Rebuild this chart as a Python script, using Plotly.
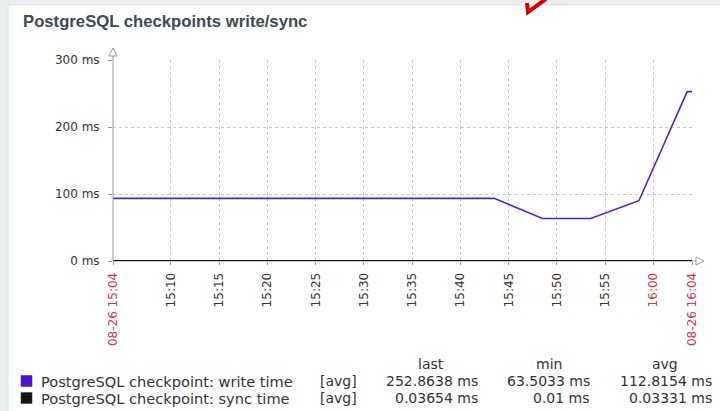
import plotly.graph_objects as go

# ---------------- data ----------------
times = ["2024-08-26 15:03:30", "2024-08-26 15:08:30", "2024-08-26 15:13:30", "2024-08-26 15:18:30",
         "2024-08-26 15:23:30", "2024-08-26 15:28:30", "2024-08-26 15:33:30", "2024-08-26 15:38:30",
         "2024-08-26 15:43:30", "2024-08-26 15:48:30", "2024-08-26 15:53:30", "2024-08-26 15:58:30",
         "2024-08-26 16:03:30", "2024-08-26 16:04:00"]
write_time = [93.5, 93.5, 93.5, 93.5, 93.5, 93.5, 93.5, 93.5, 93.5, 63.5033, 63.5033, 90.0, 252.8638, 252.8638]
sync_time = [0.03, 0.03, 0.03, 0.03, 0.03, 0.03, 0.03, 0.03, 0.03, 0.01, 0.02, 0.03, 0.03654, 0.03654]

series_names = ["PostgreSQL checkpoint: write time", "PostgreSQL checkpoint: sync time"]
series_func = ["[avg]", "[avg]"]
stat_headers = ["last", "min", "avg"]
stat_last = ["252.8638 ms", "0.03654 ms"]
stat_min = ["63.5033 ms", "0.01 ms"]
stat_avg = ["112.8154 ms", "0.03331 ms"]

x_tickvals = ["2024-08-26 15:04", "2024-08-26 15:10", "2024-08-26 15:15", "2024-08-26 15:20",
              "2024-08-26 15:25", "2024-08-26 15:30", "2024-08-26 15:35", "2024-08-26 15:40",
              "2024-08-26 15:45", "2024-08-26 15:50", "2024-08-26 15:55", "2024-08-26 16:00",
              "2024-08-26 16:04"]
x_ticklabels = ["08-26 15:04", "15:10", "15:15", "15:20", "15:25", "15:30", "15:35", "15:40",
                "15:45", "15:50", "15:55", "16:00", "08-26 16:04"]
x_tick_red = [True, False, False, False, False, False, False, False, False, False, False, True, True]
y_tickvals = [0, 100, 200, 300]
y_ticklabels = ["0 ms", "100 ms", "200 ms", "300 ms"]

title_text = "PostgreSQL checkpoints write/sync"

# ---------------- styling ----------------
W, H = 720, 411
L, R, T, B = 113, 692, 60, 261  # plot area in pixels
RED = "#d9304f"
PURPLE = "#5522cc"
PURPLE_BOX = "#4c10d8"
BLACK = "#111111"
TXT = "#333333"
GRID = "#c8c8c8"
AXIS = "#9a9a9a"
BG = "#ebeef0"
FONT = "DejaVu Sans"
LEG_SIZE = 14


def px(x):
    return (x - L) / (R - L)


def py(y):
    return (B - y) / (B - T)


ticktext = [f'<span style="color:{RED}">{t}</span>' if r else t for t, r in zip(x_ticklabels, x_tick_red)]

fig = go.Figure()
fig.add_trace(go.Scatter(x=times, y=write_time, mode="lines", line=dict(color=PURPLE, width=1.6),
                         name=series_names[0], hoverinfo="x+y"))
fig.add_trace(go.Scatter(x=times, y=sync_time, mode="lines", line=dict(color=BLACK, width=2.2),
                         name=series_names[1], hoverinfo="x+y"))

shapes = []
# page background strips
shapes.append(dict(type="rect", xref="paper", yref="paper", x0=px(-5), x1=px(8), y0=py(420), y1=py(-5),
                   fillcolor=BG, line_width=0, layer="below"))
shapes.append(dict(type="rect", xref="paper", yref="paper", x0=px(-5), x1=px(725), y0=py(5), y1=py(-5),
                   fillcolor=BG, line_width=0, layer="below"))
shapes.append(dict(type="line", xref="paper", yref="paper", x0=px(8), x1=px(8), y0=py(420), y1=py(5),
                   line=dict(color="#dfe3e6", width=1)))
shapes.append(dict(type="line", xref="paper", yref="paper", x0=px(8), x1=px(725), y0=py(5), y1=py(5),
                   line=dict(color="#dfe3e6", width=1)))
# y axis line with arrow
shapes.append(dict(type="line", xref="paper", yref="paper", x0=0, x1=0, y0=0, y1=py(50),
                   line=dict(color=AXIS, width=1)))
shapes.append(dict(type="path", xref="paper", yref="paper",
                   path=f"M {px(109)},{py(56)} L {px(113)},{py(48)} L {px(117)},{py(56)} Z",
                   fillcolor="white", line=dict(color=AXIS, width=1)))
# x axis line with arrow
shapes.append(dict(type="line", xref="paper", yref="paper", x0=0, x1=px(697), y0=0, y1=0,
                   line=dict(color=AXIS, width=1), layer="below"))
shapes.append(dict(type="path", xref="paper", yref="paper",
                   path=f"M {px(696)},{py(257)} L {px(704)},{py(261)} L {px(696)},{py(265)} Z",
                   fillcolor="white", line=dict(color=AXIS, width=1)))
# red mark at the top
shapes.append(dict(type="path", xref="paper", yref="paper",
                   path=f"M {px(527)},{py(3)} L {px(528)},{py(12)} L {px(546)},{py(-1)}",
                   line=dict(color="#d40000", width=4)))
# legend boxes
legend_rows_y = [381, 398]
for yy, col in zip(legend_rows_y, [PURPLE_BOX, BLACK]):
    shapes.append(dict(type="rect", xref="paper", yref="paper", x0=px(21), x1=px(32),
                       y0=py(yy + 5.5), y1=py(yy - 5.5), fillcolor=col, line=dict(color="#444444", width=0.6)))

annotations = []
annotations.append(dict(text=f"<b>{title_text}</b>", xref="paper", yref="paper", x=px(21), y=py(22),
                        xanchor="left", yanchor="middle", showarrow=False,
                        font=dict(family="Liberation Sans", size=16.7, color="#3c4a55")))
for i, yy in enumerate(legend_rows_y):
    annotations.append(dict(text=series_names[i], xref="paper", yref="paper", x=px(39), y=py(yy),
                            xanchor="left", yanchor="middle", showarrow=False,
                            font=dict(family=FONT, size=14.6, color=TXT)))
    annotations.append(dict(text=series_func[i], xref="paper", yref="paper", x=px(318), y=py(yy),
                            xanchor="left", yanchor="middle", showarrow=False,
                            font=dict(family=FONT, size=LEG_SIZE, color=TXT)))
    for xr, vals in zip([480, 592, 714], [stat_last, stat_min, stat_avg]):
        annotations.append(dict(text=vals[i], xref="paper", yref="paper", x=px(xr), y=py(yy),
                                xanchor="right", yanchor="middle", showarrow=False,
                                font=dict(family=FONT, size=LEG_SIZE, color=TXT)))
for xc, h in zip([431, 549, 665], stat_headers):
    annotations.append(dict(text=h, xref="paper", yref="paper", x=px(xc), y=py(364),
                            xanchor="center", yanchor="middle", showarrow=False,
                            font=dict(family=FONT, size=LEG_SIZE, color=TXT)))

fig.update_layout(
    width=W, height=H,
    margin=dict(l=L, r=W - R, t=T, b=H - B, pad=0),
    paper_bgcolor="white", plot_bgcolor="white",
    showlegend=False,
    shapes=shapes, annotations=annotations,
    font=dict(family=FONT, size=12, color=TXT),
    xaxis=dict(type="date", range=["2024-08-26 15:04", "2024-08-26 16:04"],
               tickmode="array", tickvals=x_tickvals, ticktext=ticktext, tickangle=-90,
               showgrid=True, gridcolor=GRID, griddash="dot", gridwidth=1,
               showline=False, zeroline=False,
               ticks="outside", ticklen=3, tickcolor=AXIS, ticklabelstandoff=3,
               tickfont=dict(family=FONT, size=12, color=TXT)),
    yaxis=dict(range=[0, 300], tickmode="array", tickvals=y_tickvals, ticktext=y_ticklabels,
               showgrid=True, gridcolor=GRID, griddash="dot", gridwidth=1,
               showline=False, zeroline=False,
               ticks="outside", ticklen=4, tickcolor=AXIS, ticklabelstandoff=6,
               tickfont=dict(family=FONT, size=12, color=TXT)),
)

fig.write_html("out.html", config={"displayModeBar": False},
               post_script="document.body.style.margin='0';document.body.style.padding='0';")
